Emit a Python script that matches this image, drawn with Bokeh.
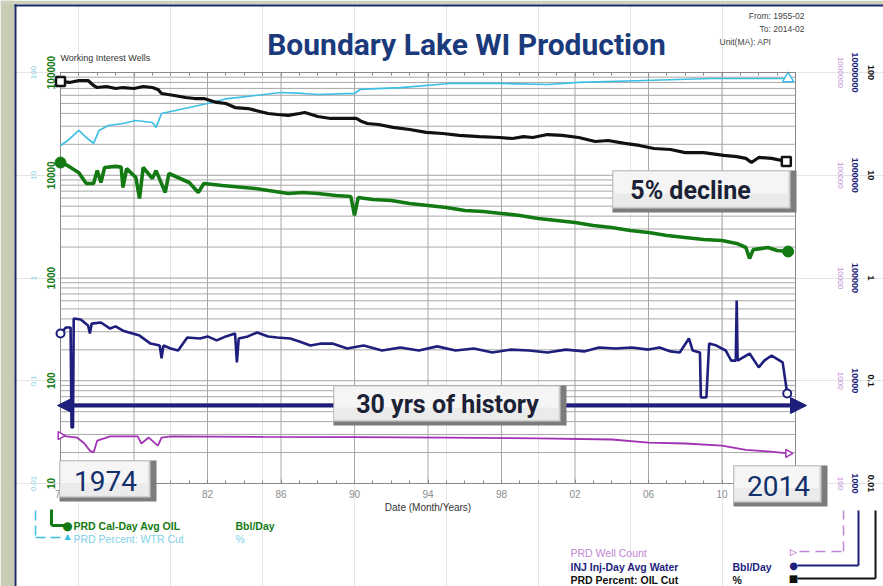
import math
from bokeh.plotting import figure
from bokeh.models import (Range1d, LogScale, LogAxis, LinearAxis, FixedTicker,
                          CustomJSTickFormatter, Label, BoxAnnotation, Arrow, NormalHead)
from bokeh.embed import file_html
from bokeh.resources import INLINE

# ---------------- data ----------------
oil_cut_years = [1974.0, 1974.5, 1975.0, 1975.5, 1975.8, 1976.0, 1976.5, 1977.0, 1977.4, 1978.0,
                 1978.5, 1979.0, 1979.3, 1979.5, 1980.2, 1980.8, 1981.3, 1981.8, 1982.5, 1983.0,
                 1983.5, 1984.2, 1985.3, 1985.8, 1986.4, 1987.0, 1987.3, 1988.0, 1988.7, 1989.5,
                 1990.1, 1990.4, 1990.7, 1991.3, 1992.1, 1993.0, 1993.9, 1994.8, 1995.7, 1996.8,
                 1997.9, 1998.6, 1999.2, 1999.7, 2000.5, 2001.3, 2002.2, 2003.1, 2003.8, 2004.7,
                 2005.5, 2006.3, 2007.2, 2008.0, 2009.0, 2010.1, 2010.8, 2011.3, 2011.6, 2012.0,
                 2012.7, 2013.5]
oil_cut_pct = [81.7, 80.0, 83.6, 83.6, 74.7, 71.4, 73.1, 69.9, 71.4, 69.9,
               73.1, 71.4, 68.4, 62.5, 59.7, 57.1, 55.8, 55.8, 51.1, 49.9,
               45.6, 44.6, 39.9, 39.0, 38.2, 39.9, 40.8, 37.3, 35.7, 35.7,
               35.7, 33.3, 31.9, 31.2, 29.2, 27.9, 26.1, 25.5, 24.4, 23.8,
               23.3, 22.8, 23.8, 23.3, 24.9, 24.4, 23.3, 21.3, 21.8, 20.4,
               19.5, 18.2, 17.8, 16.6, 16.6, 15.6, 15.2, 14.6, 13.3, 14.9,
               14.6, 13.6]

wtr_cut_years = [1974.0, 1974.4, 1975.0, 1975.4, 1975.8, 1976.1, 1976.6, 1977.4, 1978.1, 1979.0,
                 1979.2, 1979.5, 1981.0, 1982.0, 1983.1, 1984.6, 1986.0, 1987.2, 1988.0, 1990.0,
                 1990.3, 1992.5, 1995.2, 1997.9, 2000.5, 2002.2, 2005.8, 2009.4, 2013.6]
wtr_cut_pct = [19.5, 21.8, 27.3, 23.3, 20.4, 27.3, 30.5, 31.9, 34.1, 32.6,
               29.2, 39.9, 45.6, 49.9, 55.8, 59.7, 63.9, 62.5, 61.1, 62.5,
               68.4, 71.4, 78.2, 78.2, 76.4, 80.0, 83.6, 87.4, 87.4]

oil_years = [1974.0, 1974.4, 1975.0, 1975.4, 1975.8, 1976.0, 1976.2, 1976.4, 1977.0, 1977.3,
             1977.4, 1977.6, 1978.1, 1978.3, 1978.5, 1979.0, 1979.2, 1979.7, 1979.9, 1981.0,
             1981.5, 1981.8, 1982.8, 1984.6, 1986.4, 1987.2, 1988.0, 1989.0, 1989.8, 1990.0,
             1990.2, 1991.0, 1992.0, 1993.0, 1994.0, 1995.0, 1996.0, 1997.0, 1998.0, 1999.0,
             2000.0, 2001.0, 2002.0, 2003.0, 2004.0, 2005.0, 2006.0, 2007.0, 2008.0, 2009.0,
             2010.0, 2010.8, 2011.3, 2011.5, 2011.7, 2012.5, 2013.0, 2013.6]
oil_bbl_day = [13300, 12400, 10600, 8310, 8310, 11100, 8500, 11900, 12200, 12000,
               7600, 11600, 9510, 5940, 11900, 9300, 11100, 6790, 10400, 8500,
               6790, 8310, 7940, 7430, 6640, 6790, 6640, 6350, 6210, 4060,
               6070, 5810, 5680, 5310, 5080, 4860, 4540, 4440, 4250, 4060,
               3800, 3630, 3470, 3240, 3100, 2900, 2770, 2590, 2480, 2370,
               2320, 2170, 1980, 1550, 1890, 1980, 1850, 1810]

inj_years = [1974.0, 1974.3, 1974.55, 1974.6, 1974.68, 1974.72, 1975.1, 1975.5, 1975.6, 1975.7,
             1976.2, 1976.7, 1977.0, 1977.4, 1978.3, 1978.9, 1979.4, 1979.5, 1979.6, 1980.0,
             1980.4, 1980.9, 1981.6, 1982.0, 1982.5, 1983.0, 1983.5, 1983.6, 1983.7, 1984.2,
             1984.7, 1985.3, 1985.8, 1986.5, 1987.0, 1987.6, 1988.2, 1988.8, 1989.6, 1990.5,
             1991.5, 1992.5, 1993.5, 1994.5, 1995.5, 1996.5, 1997.5, 1998.5, 1999.5, 2000.5,
             2001.5, 2002.5, 2003.3, 2004.2, 2005.1, 2006.0, 2006.6, 2007.2, 2007.7, 2008.2,
             2008.4, 2008.8, 2008.85, 2009.15, 2009.3, 2009.7, 2010.2, 2010.5, 2010.75, 2010.8,
             2010.85, 2011.5, 2012.0, 2012.3, 2012.7, 2013.3, 2013.55]
inj_bbl_day = [28800, 33000, 33000, 3510, 3510, 40400, 39500, 34500, 28800, 36000,
               36900, 32200, 33800, 30700, 27500, 23000, 22000, 16500, 22000, 20600,
               19700, 26400, 25800, 27000, 24700, 27000, 28800, 15100, 25800, 27000,
               29500, 27000, 26400, 25800, 24100, 22000, 23000, 23000, 20600, 22000,
               19700, 21100, 19700, 21600, 19700, 20600, 18800, 20100, 19700, 18800,
               20100, 19300, 21100, 20600, 21100, 20100, 21100, 19300, 18800, 25800,
               19700, 18800, 6870, 6870, 23000, 22000, 19700, 15700, 15700, 60400,
               15700, 18400, 13500, 15700, 17600, 15100, 7510]

well_years = [1974.0, 1974.9, 1975.3, 1975.6, 1975.8, 1976.0, 1976.7, 1978.2, 1978.4, 1978.8,
              1979.3, 1979.5, 1980.0, 1985.0, 1990.0, 1995.0, 2000.0, 2004.0, 2006.0, 2008.0,
              2010.0, 2011.3, 2012.5, 2013.6]
well_count = [293, 280, 245, 209, 200, 262, 287, 287, 245, 280,
              234, 280, 287, 284, 283, 280, 275, 268, 250, 245,
              234, 212, 205, 196]

year_ticks = list(range(1974, 2015, 4))
year_minor = list(range(1974, 2015))
decades_oil = [10, 100, 1000, 10000, 100000]
decades_pct = [0.01, 0.1, 1, 10, 100]
decades_wells = [100, 1000, 10000, 100000, 1000000]
decades_inj = [1000, 10000, 100000, 1000000, 10000000]
X0, X1 = 1974, 2014          # plotted date window
Y0, Y1 = 10, 100000          # oil axis window

# ---------------- style / layout ----------------
GREEN = "#137a13"
CYAN = "#3cbfe4"
CYAN_LBL = "#7fd2ea"
BLACK = "#111111"
NAVY = "#1e1e7c"
PURPLE = "#a032b4"
PURPLE_LBL = "#bf86d2"
TITLE = "#1b3a7c"
BOXTXT = "#13306c"
GRID = "#a8a8a8"
SANS = "Liberation Sans"
HEAD = "Roboto"

W, H = 883, 586
F_L, F_R, F_T, F_B = 60, 795, 72, 483       # data window in page pixels
px_per_year = (F_R - F_L) / (X1 - X0)
px_per_dec = (F_B - F_T) / 4.0
lo_k = 10 ** (-(H - F_B) / px_per_dec)
hi_k = 10 ** (F_T / px_per_dec)

p = figure(width=W, height=H,
           x_range=Range1d(X0 - F_L / px_per_year, X1 + (W - F_R) / px_per_year),
           y_range=Range1d(Y0 * lo_k, Y1 * hi_k), y_axis_type="log",
           x_axis_location=None, y_axis_location=None, min_border=0,
           output_backend="svg", toolbar_location=None)
p.outline_line_color = None
p.background_fill_color = "white"
p.border_fill_color = "white"

p.extra_y_ranges = {"wtr": Range1d(0.01 * lo_k, 100 * hi_k),
                    "oilcut": Range1d(0.01 * lo_k, 100 * hi_k),
                    "wells": Range1d(100 * lo_k, 1e6 * hi_k),
                    "inj": Range1d(1000 * lo_k, 1e7 * hi_k)}
p.extra_y_scales = {"wtr": LogScale(), "oilcut": LogScale(), "wells": LogScale(), "inj": LogScale()}

# ---------------- grid (from tick lists) ----------------
hgrid = [m * d for d in decades_oil[:-1] for m in range(1, 10)] + [decades_oil[-1]]
p.segment(x0=[X0] * len(hgrid), x1=[X1] * len(hgrid), y0=hgrid, y1=hgrid,
          line_color=GRID, line_width=1)
p.segment(x0=year_ticks, x1=year_ticks, y0=[Y0] * len(year_ticks), y1=[Y1] * len(year_ticks),
          line_color=GRID, line_width=1)
p.quad(left=[X0], right=[X1], bottom=[Y0], top=[Y1], fill_color=None,
       line_color="#8a8a8a", line_width=1)

# ---------------- axes ----------------
num_fmt = CustomJSTickFormatter(code="return tick.toString();")

def vaxis(rname, ticks, color, size, bold, standoff, side, loc):
    ax = LogAxis(y_range_name=rname, ticker=FixedTicker(ticks=ticks), formatter=num_fmt,
                 fixed_location=loc, axis_line_color=None, major_tick_line_color=None,
                 minor_tick_line_color=None, major_tick_in=0, major_tick_out=0,
                 minor_tick_in=0, minor_tick_out=0, major_label_orientation="vertical",
                 major_label_text_color=color, major_label_text_font=SANS,
                 major_label_text_font_size=f"{size}px",
                 major_label_text_font_style="bold" if bold else "normal",
                 major_label_standoff=standoff)
    p.add_layout(ax, side)

vaxis("default", decades_oil, GREEN, 10, True, 6, "left", X0)
vaxis("wtr", decades_pct, CYAN_LBL, 8, False, 25, "left", X0)
vaxis("wells", decades_wells, PURPLE_LBL, 8, False, 42, "right", X1)
vaxis("inj", decades_inj, NAVY, 9, True, 56, "right", X1)
vaxis("oilcut", decades_pct, BLACK, 9, True, 72, "right", X1)

xa = LinearAxis(ticker=FixedTicker(ticks=year_ticks, minor_ticks=year_minor),
                formatter=CustomJSTickFormatter(
                    code="const y = Math.round(tick) % 100; return (y < 10 ? '0' : '') + y;"),
                fixed_location=Y0, bounds=(X0, X1),
                axis_line_color="#8a8a8a", major_tick_line_color="#8a8a8a",
                minor_tick_line_color="#8a8a8a", major_tick_in=4, major_tick_out=0,
                minor_tick_in=3, minor_tick_out=0, major_label_text_color="#8c8c8c",
                major_label_text_font=SANS, major_label_text_font_size="10px",
                major_label_standoff=6, axis_label="Date (Month/Years)",
                axis_label_text_font=SANS, axis_label_text_font_size="10px",
                axis_label_text_font_style="normal", axis_label_text_color="#333333",
                axis_label_standoff=1)
p.add_layout(xa, "below")

ta = LinearAxis(ticker=FixedTicker(ticks=year_ticks, minor_ticks=year_minor),
                fixed_location=Y1, bounds=(X0, X1),
                axis_line_color="#8a8a8a", major_tick_line_color="#8a8a8a",
                minor_tick_line_color="#8a8a8a", major_tick_in=4, major_tick_out=0,
                minor_tick_in=3, minor_tick_out=0, major_label_text_color=None,
                major_label_text_font_size="1px", major_label_standoff=0)
p.add_layout(ta, "above")

# ---------------- series ----------------
p.line(wtr_cut_years, wtr_cut_pct, y_range_name="wtr", line_color=CYAN, line_width=1.7)
p.scatter([wtr_cut_years[-1]], [wtr_cut_pct[-1]], y_range_name="wtr", marker="triangle",
          size=11, fill_color="white", line_color=CYAN, line_width=1.5)

p.line(oil_cut_years, oil_cut_pct, y_range_name="oilcut", line_color=BLACK, line_width=3.2)
p.scatter([oil_cut_years[0], oil_cut_years[-1]], [oil_cut_pct[0], oil_cut_pct[-1]],
          y_range_name="oilcut", marker="square", size=9, fill_color="white",
          line_color=BLACK, line_width=2.5)

p.line(oil_years, oil_bbl_day, line_color=GREEN, line_width=3.6)
p.scatter([oil_years[0], oil_years[-1]], [oil_bbl_day[0], oil_bbl_day[-1]], marker="circle",
          size=11, fill_color=GREEN, line_color=GREEN)

p.line(inj_years, inj_bbl_day, y_range_name="inj", line_color=NAVY, line_width=2.6)
p.scatter([inj_years[0], inj_years[-1]], [inj_bbl_day[0], inj_bbl_day[-1]], y_range_name="inj",
          marker="circle", size=8, fill_color="white", line_color=NAVY, line_width=2)

p.line(well_years, well_count, y_range_name="wells", line_color=PURPLE, line_width=1.8)
p.scatter([well_years[0], well_years[-1]], [well_count[0], well_count[-1]], y_range_name="wells",
          marker="triangle", angle=-math.pi / 2, size=8, fill_color="white",
          line_color=PURPLE, line_width=1.5)

# ---------------- annotations (page pixel positions) ----------------
def sx(X):
    return X

def sy(Y):
    return H - Y

def txt(X, Y, s, size, color, bold=False, align="left", font=SANS):
    p.add_layout(Label(x=sx(X), y=sy(Y), x_units="screen", y_units="screen", text=s,
                       text_font=font, text_font_size=f"{size}px",
                       text_font_style="bold" if bold else "normal", text_color=color,
                       text_align=align, text_baseline="middle"))

def box(XA, YA, XB, YB, color):
    p.add_layout(BoxAnnotation(left=sx(XA), right=sx(XB), top=sy(YA), bottom=sy(YB),
                               left_units="screen", right_units="screen",
                               top_units="screen", bottom_units="screen",
                               fill_color=color, fill_alpha=1.0, line_color=None))

def seg(XA, YA, XB, YB, color, width, dash="solid"):
    p.add_layout(Arrow(end=None, x_start=sx(XA), y_start=sy(YA), x_end=sx(XB), y_end=sy(YB),
                       start_units="screen", end_units="screen", line_color=color,
                       line_width=width, line_dash=dash))

def bevel(XA, YA, XB, YB):
    box(XA, YA, XB, YB, "#7c7c7c")
    box(XA, YA, XB - 6, YB - 4, "#cdcdcd")
    box(XA + 1, YA + 1, XB - 8, YB - 6, "#f5f5f5")
    box(XA + 1, YA + (YB - YA) * 0.55, XB - 8, YB - 6, "#ebebeb")

# slide background and panel border
box(0, 0, 14, H, "#c8ccb3")
box(0, 0, W, 4, "#cdd0ba")
box(14, 4, 16, H, "#1b2a6b")
box(14, 4, W, 6, "#1b2a6b")

# big double arrow
p.add_layout(Arrow(start=NormalHead(size=16, fill_color=NAVY, line_color=NAVY),
                   end=NormalHead(size=16, fill_color=NAVY, line_color=NAVY),
                   x_start=sx(57), y_start=sy(405), x_end=sx(806), y_end=sy(405),
                   start_units="screen", end_units="screen", line_color=NAVY, line_width=4))

bevel(612, 170, 796, 212)
txt(690, 190, "5% decline", 25, "#1b2236", True, "center", HEAD)
bevel(333, 385, 566, 425)
txt(447, 404, "30 yrs of history", 25, "#1b2236", True, "center", HEAD)
bevel(59, 460, 156, 501)
txt(105, 480, "1974", 28, BOXTXT, False, "center", HEAD)
bevel(733, 465, 827, 506)
txt(778, 485, "2014", 28, BOXTXT, False, "center", HEAD)

# titles / headers
txt(466, 44, "Boundary Lake WI Production", 30, TITLE, True, "center", HEAD)
txt(60, 57, "Working Interest Wells", 9, "#333333")
txt(804, 15, "From: 1955-02", 8.5, "#444444", align="right")
txt(804, 28, "To: 2014-02", 8.5, "#444444", align="right")
txt(719, 41, "Unit(MA): API", 8.5, "#444444")

# left legend
seg(51, 509, 51, 525, GREEN, 3)
seg(51, 525, 64, 525, GREEN, 3)
txt(67, 525, "\u25cf", 12, GREEN, align="center", font="DejaVu Sans")
txt(73, 525, "PRD Cal-Day Avg OIL", 10.5, GREEN, True)
txt(235, 525, "Bbl/Day", 10.5, GREEN, True)
seg(35, 510, 35, 537, CYAN, 1.5, "10 5")
seg(35, 537, 63, 537, CYAN, 1.5, "10 5")
txt(67, 536, "\u25b2", 8, CYAN, align="center", font="DejaVu Sans")
txt(73, 538, "PRD Percent: WTR Cut", 10.5, CYAN_LBL)
txt(235, 538, "%", 10.5, CYAN_LBL)

# right legend
seg(799, 551, 843, 551, PURPLE_LBL, 1.5, "10 6")
seg(843, 551, 843, 510, PURPLE_LBL, 1.5, "10 6")
txt(793, 551, "\u25b7", 9, PURPLE, align="center", font="DejaVu Sans")
txt(570, 552, "PRD Well Count", 10.5, PURPLE_LBL)
seg(797, 565, 858, 565, NAVY, 2)
seg(858, 565, 858, 510, NAVY, 2)
txt(793, 565, "\u25cf", 10, NAVY, align="center", font="DejaVu Sans")
txt(570, 566, "INJ Inj-Day Avg Water", 10.5, NAVY, True)
txt(732, 566, "Bbl/Day", 10.5, NAVY, True)
seg(797, 578, 875, 578, BLACK, 2)
seg(875, 578, 875, 510, BLACK, 2)
txt(793, 578, "\u25a0", 10, BLACK, align="center", font="DejaVu Sans")
txt(570, 579, "PRD Percent: OIL Cut", 10.5, BLACK, True)
txt(732, 579, "%", 10.5, BLACK, True)

open("out.html", "w").write(file_html(p, INLINE))
